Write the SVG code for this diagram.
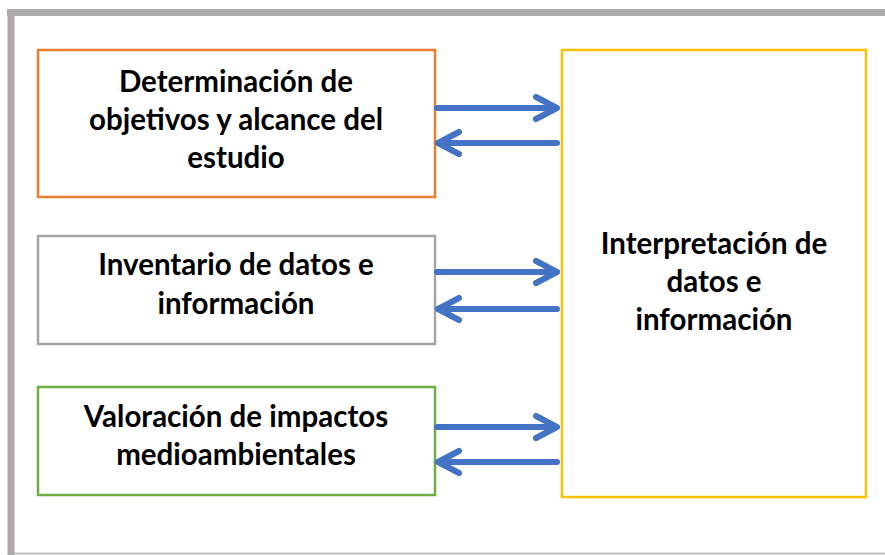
<svg xmlns="http://www.w3.org/2000/svg" width="885" height="555" viewBox="0 0 885 555">
<style>
.box{fill:#ffffff;stroke-width:2.5}
.t{font-family:"Lato","Liberation Sans",sans-serif;font-weight:bold;font-size:29.5px;fill:#000;text-anchor:middle}
.arr{fill:none;stroke:#4472C4;stroke-width:6;stroke-linecap:round;stroke-linejoin:round}
</style>
<rect width="885" height="555" fill="#ffffff"/>
<g id="frame">
<line x1="7" y1="12.5" x2="885" y2="12.5" stroke="#AEAAAA" stroke-width="7"/>
<line x1="11" y1="9" x2="11" y2="555" stroke="#AEAAAA" stroke-width="7"/>
<line x1="14" y1="553.5" x2="885" y2="553.5" stroke="#BFBFBF" stroke-width="2"/>
</g>
<g id="node-objetivos">
<rect class="box" x="38" y="50" width="397" height="147" stroke="#ED7D31"/>
<text class="t" x="236" y="92">Determinación de</text>
<text class="t" x="236" y="130">objetivos y alcance del</text>
<text class="t" x="236" y="168">estudio</text>
</g>
<g id="node-inventario">
<rect class="box" x="38" y="236" width="397" height="108" stroke="#A5A5A5"/>
<text class="t" x="236" y="275">Inventario de datos e</text>
<text class="t" x="236" y="314">información</text>
</g>
<g id="node-valoracion">
<rect class="box" x="38" y="387" width="397" height="108" stroke="#70AD47"/>
<text class="t" x="236" y="427">Valoración de impactos</text>
<text class="t" x="236" y="465">medioambientales</text>
</g>
<g id="node-interpretacion">
<rect class="box" x="562" y="50" width="304" height="447" stroke="#FFC000"/>
<text class="t" x="714" y="254">Interpretación de</text>
<text class="t" x="714" y="292">datos e</text>
<text class="t" x="714" y="330">información</text>
</g>
<g id="connectors">
<path class="arr" d="M437 108 H557 M536 97 L557 108 L536 119"/>
<path class="arr" d="M557 143 H438 M459 132 L438 143 L459 154"/>
<path class="arr" d="M437 272 H557 M536 261 L557 272 L536 283"/>
<path class="arr" d="M557 309 H438 M459 298 L438 309 L459 320"/>
<path class="arr" d="M437 427 H557 M536 416 L557 427 L536 438"/>
<path class="arr" d="M557 462 H438 M459 451 L438 462 L459 473"/>
</g>
</svg>
